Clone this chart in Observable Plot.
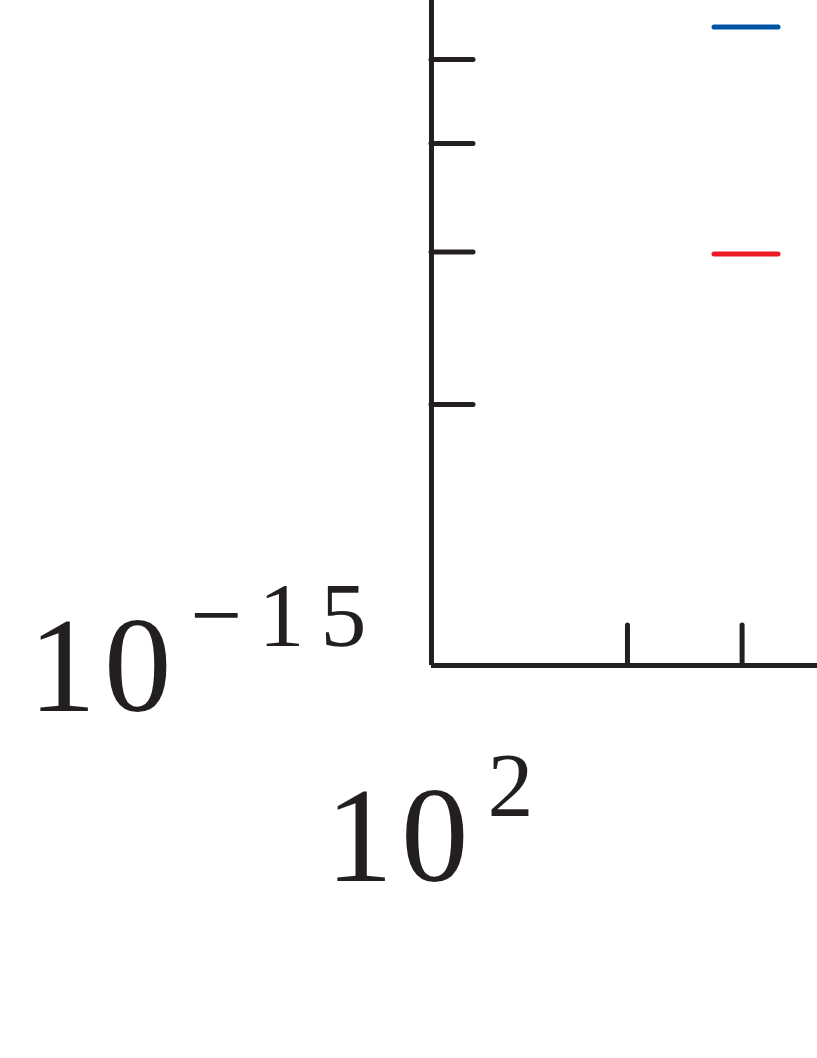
<!DOCTYPE html>
<html>
<head>
<meta charset="utf-8">
<script src="https://cdn.jsdelivr.net/npm/d3@7"></script>
<script src="https://cdn.jsdelivr.net/npm/@observablehq/plot@0.6"></script>
<style>
  html, body { margin: 0; padding: 0; background: #fff; }
  svg { display: block; }
  .base-label text { letter-spacing: 8px; }
  .exp-label text { letter-spacing: 16px; }
</style>
</head>
<body>
<div id="chart"></div>
<script>
// ---- data ----
const xDomain = [100, 391.7];           // visible x range (log)
const yDomain = [1e-15, 5.85e-15];      // visible y range (log)
const xMajorTicks = [100];
const xMajorExp = ["2"];
const yMajorTicks = [1e-15];
const yMajorExp = ["\u221215"];
const xMinorTicks = [200, 300];
const yMinorTicks = [2e-15, 3e-15, 4e-15, 5e-15];
const legendColors = ["#0054a6", "#ed1c24"];

// ---- layout ----
const W = 817, H = 1058;
const mLeft = 431, mTop = 0, mRight = 0, mBottom = 393;
const ink = "#231f20";
const font = "'Liberation Serif', 'DejaVu Serif', serif";
const plotW = W - mLeft - mRight, plotH = H - mTop - mBottom;

const chart = Plot.plot({
  width: W, height: H,
  marginLeft: mLeft, marginTop: mTop, marginRight: mRight, marginBottom: mBottom,
  style: {background: "#fff", overflow: "visible"},
  x: {type: "log", domain: xDomain, axis: null},
  y: {type: "log", domain: yDomain, axis: null},
  marks: [
    // minor ticks (inward)
    Plot.tickY(yMinorTicks, {y: d => d, stroke: ink, strokeWidth: 5, strokeLinecap: "round", insetRight: plotW - 42}),
    Plot.tickX(xMinorTicks, {x: d => d, stroke: ink, strokeWidth: 5, strokeLinecap: "round", insetTop: plotH - 40}),
    // axis lines
    Plot.ruleX(xMajorTicks, {x: d => d, stroke: ink, strokeWidth: 5}),
    Plot.ruleY(yMajorTicks, {y: d => d, stroke: ink, strokeWidth: 5}),
    // y tick label 10^-15
    Plot.text(yMajorTicks, {y: d => d, frameAnchor: "left", text: () => "10", textAnchor: "start", lineAnchor: "bottom",
      dx: -403, dy: 45, fontSize: 135, fontFamily: font, fill: ink, className: "base-label"}),
    Plot.text(yMajorTicks, {y: d => d, frameAnchor: "left", text: (d, i) => yMajorExp[i], textAnchor: "start", lineAnchor: "bottom",
      dx: -241, dy: -20, fontSize: 92, fontFamily: font, fill: ink, className: "exp-label"}),
    // x tick label 10^2
    Plot.text(xMajorTicks, {x: d => d, frameAnchor: "bottom", text: () => "10", textAnchor: "start", lineAnchor: "bottom",
      dx: -106, dy: 215, fontSize: 135, fontFamily: font, fill: ink, className: "base-label"}),
    Plot.text(xMajorTicks, {x: d => d, frameAnchor: "bottom", text: (d, i) => xMajorExp[i], textAnchor: "start", lineAnchor: "bottom",
      dx: 56, dy: 150, fontSize: 92, fontFamily: font, fill: ink})
  ]
});

// legend sample lines (labels lie outside the visible crop)
const svg = d3.select(chart);
const legendY = [27, 254];
legendColors.forEach((c, i) => {
  svg.append("line")
    .attr("x1", 714).attr("x2", 778)
    .attr("y1", legendY[i]).attr("y2", legendY[i])
    .attr("stroke", c).attr("stroke-width", 5).attr("stroke-linecap", "round");
});

document.getElementById("chart").appendChild(chart);
</script>
</body>
</html>
